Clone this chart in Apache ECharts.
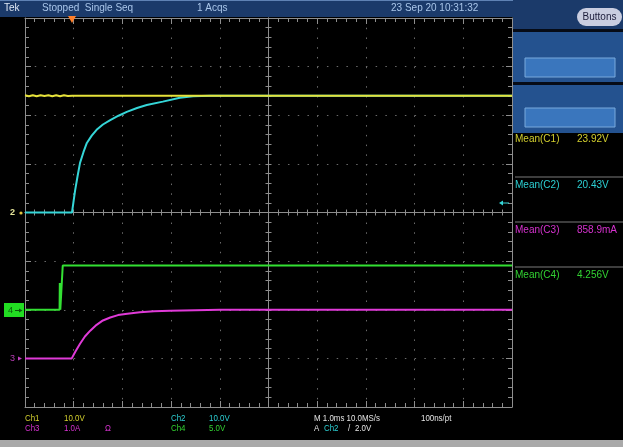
<!DOCTYPE html>
<html><head><meta charset="utf-8">
<script src="https://cdn.jsdelivr.net/npm/echarts@6/dist/echarts.min.js"></script>
<style>html,body{margin:0;padding:0;background:#000;}#c{width:623px;height:447px;}</style>
</head><body><div id="c"></div>
<script>
// ---- Data (time in ms from left edge, 1 ms/div) ----
const ch1Time = [0, 0.08, 0.16, 0.24, 0.32, 0.40, 0.48, 0.56, 0.64, 0.72, 0.80, 0.88, 0.97, 10];
const ch1Volt = [24.1, 23.9, 24.1, 23.9, 24.1, 23.95, 24.1, 23.9, 24.1, 23.9, 24.1, 23.95, 24.0, 24.0];

const ch2Time = [0, 0.965, 1.00, 1.03, 1.08, 1.13, 1.2, 1.27, 1.37, 1.47, 1.6, 1.75, 1.92, 2.09, 2.3, 2.5, 2.83, 3.18, 3.45, 3.8, 10];
const ch2Volt = [0, 0, 2.5, 4.6, 7.5, 10.2, 12.4, 14.3, 15.8, 17.0, 18.1, 19.0, 19.9, 20.7, 21.5, 22.1, 22.8, 23.6, 23.9, 24.0, 24.0];

const ch3Time = [0, 0.96, 1.03, 1.13, 1.23, 1.34, 1.47, 1.6, 1.75, 1.91, 2.1, 2.36, 2.65, 2.98, 3.5, 4.0, 10];
const ch3Amp  = [0, 0, 0.13, 0.30, 0.45, 0.57, 0.69, 0.78, 0.84, 0.89, 0.92, 0.95, 0.97, 0.98, 0.99, 1.0, 1.0];

const ch4Time = [0, 0.71, 0.715, 0.725, 0.755, 0.775, 10];
const ch4Volt = [0, 0, 2.75, 0, 0, 4.55, 4.55];

// channel settings: units per division and ground position (divisions from centre)
const chScale = [10, 10, 1, 5];
const chGround = [0, 0, -3, -2];

const channelLabels = ['Ch1', 'Ch2', 'Ch3', 'Ch4'];
const scaleLabels = ['10.0V', '10.0V', '1.0A', '5.0V'];
const meanLabels = ['Mean(C1)', 'Mean(C2)', 'Mean(C3)', 'Mean(C4)'];
const meanValues = ['23.92V', '20.43V', '858.9mA', '4.256V'];
const colors = ['#e6e23a', '#35d6d8', '#e03ad8', '#33e033'];
const textColors = ['#d2cf2e', '#2ccfd3', '#d632cf', '#32d232'];

function toDiv(times, vals, ch) {
  return times.map((t, i) => [t, vals[i] / chScale[ch] + chGround[ch]]);
}

const gridCol = '#8e8e8e';
const FONT = 'Liberation Sans, Arial, sans-serif';

function frameAxis(extra) {
  return Object.assign({
    type: 'value', interval: 1,
    axisLine: { show: true, onZero: false, lineStyle: { color: gridCol, width: 1 } },
    axisTick: { show: true, inside: true, length: 6, lineStyle: { color: gridCol } },
    minorTick: { show: true, splitNumber: 5, length: 4, lineStyle: { color: gridCol } },
    axisLabel: { show: false },
    splitLine: { show: false }
  }, extra);
}
const dotted = { show: true, lineStyle: { color: '#6a6a6a', width: 1, type: [1.5, 8.24] } };
function centreAxis(extra, inside) {
  return frameAxis(Object.assign({
    axisLine: { show: true, onZero: true, onZeroAxisIndex: 2, lineStyle: { color: gridCol } },
    axisTick: { show: true, inside, length: 3, lineStyle: { color: gridCol } },
    minorTick: { show: true, splitNumber: 5, length: 3, lineStyle: { color: gridCol } }
  }, extra));
}

const xAxis = [
  frameAxis({ gridIndex: 0, min: 0, max: 10, position: 'bottom', splitLine: dotted }),
  frameAxis({ gridIndex: 0, min: 0, max: 10, position: 'top' }),
  centreAxis({ gridIndex: 1, min: -5, max: 5, position: 'bottom' }, true),
  centreAxis({ gridIndex: 1, min: -5, max: 5, position: 'bottom' }, false)
];
const yAxis = [
  frameAxis({ gridIndex: 0, min: -4, max: 4, position: 'left', splitLine: dotted }),
  frameAxis({ gridIndex: 0, min: -4, max: 4, position: 'right' }),
  centreAxis({ gridIndex: 1, min: -4, max: 4, position: 'left' }, true),
  centreAxis({ gridIndex: 1, min: -4, max: 4, position: 'left' }, false)
];

function lineSeries(name, data, color) {
  return { name, type: 'line', xAxisIndex: 0, yAxisIndex: 0, data, symbol: 'none',
    lineStyle: { color, width: 2 }, animation: false, silent: true };
}
const series = [
  lineSeries('Ch4', toDiv(ch4Time, ch4Volt, 3), colors[3]),
  lineSeries('Ch3', toDiv(ch3Time, ch3Amp, 2), colors[2]),
  lineSeries('Ch2', toDiv(ch2Time, ch2Volt, 1), colors[1]),
  lineSeries('Ch1', toDiv(ch1Time, ch1Volt, 0), colors[0])
];

function txt(text, x, y, fill, size, extra, weight) {
  return Object.assign({ type: 'text', x, y, silent: true, z: 100,
    style: { text, fill, font: (weight ? weight + ' ' : '') + (size || 10) + 'px ' + FONT, verticalAlign: 'middle', align: 'left' } }, extra || {});
}
const g = [];
// header bar
g.push({ type: 'rect', shape: { x: 0, y: 0, width: 623, height: 17 }, style: { fill: '#1b3a6a' } });
g.push({ type: 'rect', shape: { x: 0, y: 0, width: 623, height: 1 }, style: { fill: '#5f82b4' } });
g.push(txt('Tek', 4, 8, '#dfe8f5', 10));
g.push(txt('Stopped  Single Seq', 42, 8, '#a9c6ea', 10));
g.push(txt('1 Acqs', 197, 8, '#a9c6ea', 10));
g.push(txt('23 Sep 20 10:31:32', 391, 8, '#a9c6ea', 10));
// right panel
g.push({ type: 'rect', shape: { x: 513, y: 0, width: 110, height: 133 }, style: { fill: '#24528f' } });
g.push({ type: 'rect', shape: { x: 513, y: 0, width: 110, height: 29 }, style: { fill: '#1b3a6a' } });
g.push({ type: 'rect', shape: { x: 513, y: 29, width: 110, height: 3 }, style: { fill: '#060b16' } });
g.push({ type: 'rect', shape: { x: 513, y: 82, width: 110, height: 3 }, style: { fill: '#060b16' } });
g.push({ type: 'rect', shape: { x: 525, y: 58, width: 90, height: 19 }, style: { fill: '#3a76bd', stroke: '#79a9dc', lineWidth: 1 } });
g.push({ type: 'rect', shape: { x: 525, y: 108, width: 90, height: 19 }, style: { fill: '#3a76bd', stroke: '#79a9dc', lineWidth: 1 } });
g.push({ type: 'rect', shape: { x: 577, y: 8, width: 45, height: 18, r: 9 }, style: { fill: '#c9cde0' } });
const btn = txt('Buttons', 599.5, 17, '#1c1c3a', 10);
btn.style.align = 'center';
g.push(btn);
// mean readouts
const meanY = [139, 185, 230, 275];
for (let i = 0; i < 4; i++) {
  g.push(txt(meanLabels[i], 515, meanY[i], textColors[i], 10));
  g.push(txt(meanValues[i], 577, meanY[i], textColors[i], 10));
  if (i > 0) g.push({ type: 'line', shape: { x1: 515, y1: meanY[i] - 8, x2: 623, y2: meanY[i] - 8 }, style: { stroke: '#7a7a7a', lineWidth: 1 } });
}
// bottom readouts
const r1 = 418.5, r2 = 428.5, sx = { scaleX: 0.88 };
g.push(txt(channelLabels[0], 25, r1, textColors[0], 9, sx));
g.push(txt(scaleLabels[0], 64, r1, textColors[0], 9, sx));
g.push(txt(channelLabels[1], 171, r1, textColors[1], 9, sx));
g.push(txt(scaleLabels[1], 209, r1, textColors[1], 9, sx));
g.push(txt('M 1.0ms 10.0MS/s', 314, r1, '#e4e4e4', 9, sx));
g.push(txt('100ns/pt', 421, r1, '#e4e4e4', 9, sx));
g.push(txt(channelLabels[2], 25, r2, textColors[2], 9, sx));
g.push(txt(scaleLabels[2], 64, r2, textColors[2], 9, sx));
g.push(txt('Ω', 105, r2, textColors[2], 9, sx));
g.push(txt(channelLabels[3], 171, r2, textColors[3], 9, sx));
g.push(txt(scaleLabels[3], 209, r2, textColors[3], 9, sx));
g.push(txt('A', 314, r2, '#e4e4e4', 9, sx));
g.push(txt('Ch2', 324, r2, textColors[1], 9, sx));
g.push(txt('/', 348, r2, '#e4e4e4', 9, sx));
g.push(txt('2.0V', 355, r2, '#e4e4e4', 9, sx));
g.push({ type: 'rect', shape: { x: 0, y: 440, width: 623, height: 7 }, style: { fill: '#a9a9a9' } });
// ground markers
g.push(txt('2', 10, 213, '#e6e69a', 9, null, 'bold'));
g.push({ type: 'circle', shape: { cx: 21, cy: 213, r: 1.6 }, style: { fill: '#e3c33c' }, z: 100 });
g.push({ type: 'rect', shape: { x: 4, y: 303, width: 20, height: 14 }, style: { fill: '#22dd22' }, z: 100 });
g.push(txt('4', 8, 310.5, '#0b5a0b', 9));
g.push({ type: 'line', shape: { x1: 15, y1: 310.5, x2: 21, y2: 310.5 }, style: { stroke: '#0b5a0b', lineWidth: 1 }, z: 101 });
g.push({ type: 'polygon', shape: { points: [[19, 308.5], [22.5, 310.5], [19, 312.5]] }, style: { fill: '#0b5a0b' }, z: 101 });
g.push(txt('3', 10, 358.5, '#b73cb3', 9));
g.push({ type: 'polygon', shape: { points: [[18, 356.5], [22, 358.5], [18, 360.5]] }, style: { fill: '#c040c0' }, z: 100 });
// trigger level (right edge) and trigger position (top)
g.push({ type: 'line', shape: { x1: 502, y1: 203, x2: 509, y2: 203 }, style: { stroke: colors[1], lineWidth: 1 }, z: 100 });
g.push({ type: 'polygon', shape: { points: [[499, 203], [503, 200.5], [503, 205.5]] }, style: { fill: colors[1] }, z: 100 });
g.push({ type: 'polygon', shape: { points: [[68, 16], [76, 16], [72, 23]] }, style: { fill: '#ff7f2a' }, z: 100 });

const chart = echarts.init(document.getElementById('c'), null, { renderer: 'canvas' });
chart.setOption({
  backgroundColor: '#000',
  animation: false,
  grid: [
    { left: 25, top: 18, width: 487, height: 389, containLabel: false },
    { left: 25, top: 18, width: 487, height: 389, containLabel: false }
  ],
  xAxis, yAxis, series,
  graphic: { elements: g }
});
</script></body></html>
